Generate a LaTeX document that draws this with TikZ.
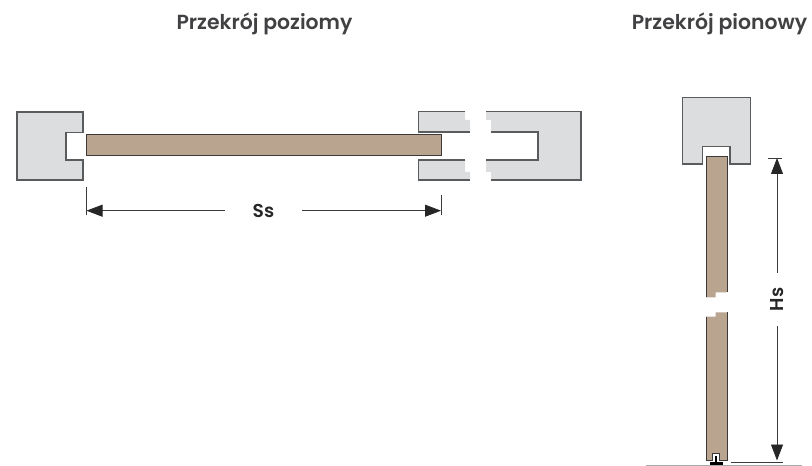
\documentclass[tikz,border=0pt]{standalone}
\usepackage{fontspec}
\setmainfont{Poppins}[UprightFont=*-SemiBold,BoldFont=*-SemiBold]
\usetikzlibrary{arrows.meta}
\definecolor{framefill}{HTML}{DCDDDF}
\definecolor{frameline}{HTML}{5A5B5D}
\definecolor{woodfill}{HTML}{B8A48F}
\definecolor{woodline}{HTML}{3C3A38}
\definecolor{dimline}{HTML}{3A3A3C}
\definecolor{groundline}{HTML}{A8A9AB}
\definecolor{titlecol}{HTML}{414143}
\tikzset{
  x=0.75pt,y=-0.75pt,
  frameshape/.style={fill=framefill,draw=none},
  frameedge/.style={draw=frameline,line width=0.85pt,line join=miter},
  woodshape/.style={fill=woodfill,draw=none},
  woodedge/.style={draw=woodline,line width=0.75pt},
  dimension/.style={draw=dimline,line width=0.6pt,-{Triangle[length=12pt,width=9pt,color=black!85]}},
  tickline/.style={draw=dimline,line width=0.6pt},
  titlelabel/.style={text=titlecol,font=\fontsize{15.3pt}{18pt}\selectfont,inner sep=0pt,anchor=base},
  dimlabel/.style={text=black!85,font=\fontsize{14pt}{16pt}\selectfont,inner sep=0pt},
}
\begin{document}
\begin{tikzpicture}
\useasboundingbox (0,0) rectangle (812,466);
% titles
\node[titlelabel] (t1) at (264.5,29.5) {Przekrój poziomy};
\node[titlelabel] (t2) at (719.5,29.5) {Przekrój pionowy};
% left frame
\path[frameshape,frameedge] (17,112) -- (83,112) -- (83,132.5) -- (66,132.5) -- (66,160) -- (83,160) -- (83,180) -- (17,180) -- cycle;
% horizontal panel
\path[woodshape,woodedge] (86,135) rectangle (441,156);
% right frame, left pieces
\path[frameshape] (465,111.5) -- (418.5,111.5) -- (418.5,132) -- (470,132) -- (470,120) -- (465,120) -- cycle;
\path[frameedge] (465,111.5) -- (418.5,111.5) -- (418.5,132) -- (470,132);
\path[frameshape] (465,160) -- (418.5,160) -- (418.5,180) -- (470,180) -- (470,172) -- (465,172) -- cycle;
\path[frameedge] (465,160) -- (418.5,160) -- (418.5,180) -- (470,180);
% right frame, right piece
\path[frameshape] (486,111.5) -- (581,111.5) -- (581,180) -- (491,180) -- (491,172) -- (486,172) -- (486,160) -- (538,160) -- (538,132) -- (491,132) -- (491,120) -- (486,120) -- cycle;
\path[frameedge] (486,111.5) -- (581,111.5) -- (581,180) -- (491,180);
\path[frameedge] (486,160) -- (538,160) -- (538,132) -- (491,132);
% horizontal dimension
\coordinate (ssL) at (86.5,210.7);
\coordinate (ssR) at (441,210.7);
\node[dimlabel,minimum width=57pt,minimum height=10pt] (ss) at (263.5,210.7) {Ss};
\draw[dimension] (ss.west) -- (ssL);
\draw[dimension] (ss.east) -- (ssR);
\coordinate (ssLa) at (86.5,187); \coordinate (ssLb) at (86.5,215);
\coordinate (ssRa) at (441.5,195); \coordinate (ssRb) at (441.5,215);
\draw[tickline] (ssLa) -- (ssLb);
\draw[tickline] (ssRa) -- (ssRb);
% vertical section frame
\path[frameshape,frameedge] (682.3,97.7) -- (750.7,97.7) -- (750.7,164) -- (730,164) -- (730,146.7) -- (702.7,146.7) -- (702.7,164) -- (682.3,164) -- cycle;
% vertical panel, upper
\path[woodshape] (706,156.7) -- (727,156.7) -- (727,292.3) -- (715.7,292.3) -- (715.7,297.3) -- (706,297.3) -- cycle;
\path[woodedge] (706,297.3) -- (706,156.7) -- (727,156.7) -- (727,292.3);
% vertical panel, lower
\path[woodshape] (706,316.7) -- (715.7,316.7) -- (715.7,312.3) -- (727,312.3) -- (727,460.3) -- (719.3,460.3) -- (719.3,453.7) -- (712.3,453.7) -- (712.3,460.3) -- (706,460.3) -- cycle;
\path[woodedge] (706,316.7) -- (706,460.3) -- (712.3,460.3) -- (712.3,453.7) -- (719.3,453.7) -- (719.3,460.3) -- (727,460.3) -- (727,312.3);
% foot
\draw[draw=black,line width=2pt] (710,463.5) -- (722.7,463.5);
\draw[draw=black,line width=1.2pt] (716,456) -- (716,463);
% ground
\coordinate (g1) at (646,465.3); \coordinate (g2) at (802,465.3);
\draw[draw=groundline,line width=1pt] (g1) -- (g2);
% vertical dimension
\coordinate (hsT) at (777,158);
\coordinate (hsB) at (777,460.5);
\node[dimlabel,rotate=90,minimum width=40pt,minimum height=10pt] (hs) at (777,299.5) {Hs};
\draw[dimension] (hs.east) -- (hsT);
\draw[dimension] (hs.west) -- (hsB);
\coordinate (ta) at (768,158); \coordinate (tb) at (782,158);
\coordinate (ba) at (730.5,462.5); \coordinate (bb) at (783,462.5);
\draw[tickline] (ta) -- (tb);
\draw[tickline] (ba) -- (bb);
\end{tikzpicture}
\end{document}
